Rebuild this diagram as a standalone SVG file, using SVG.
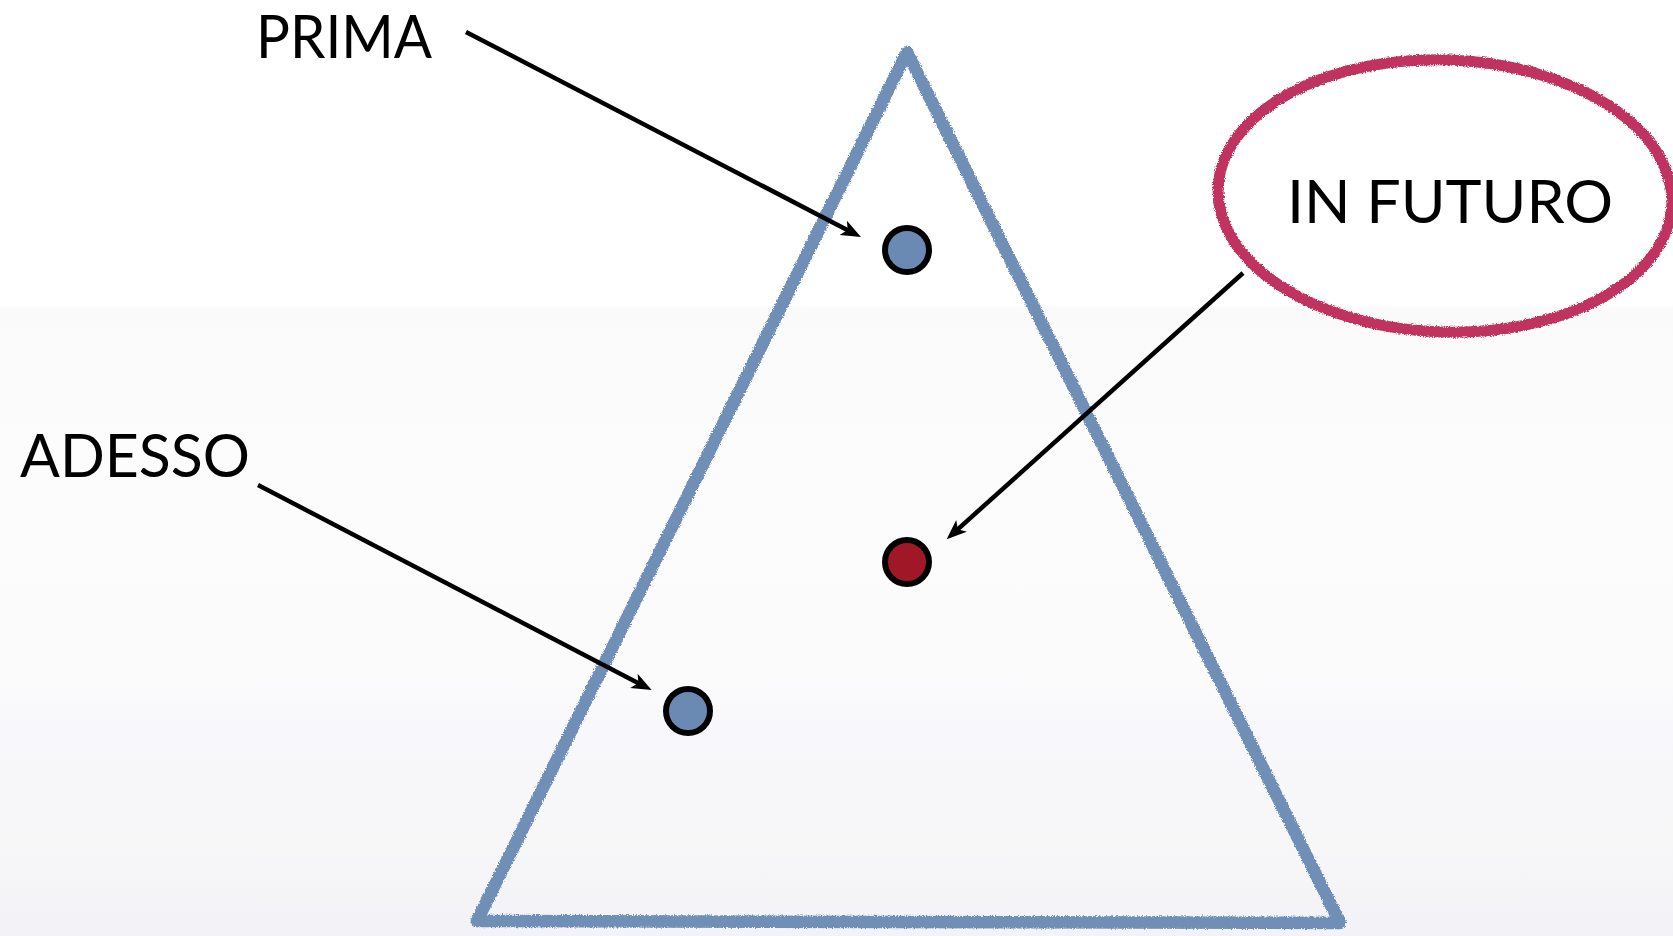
<svg xmlns="http://www.w3.org/2000/svg" width="1673" height="936" viewBox="0 0 1673 936">
<defs>
<linearGradient id="bg" x1="0" y1="0" x2="0" y2="1">
<stop offset="0" stop-color="#ffffff"/>
<stop offset="0.325" stop-color="#ffffff"/>
<stop offset="0.33" stop-color="#fafafa"/>
<stop offset="0.5" stop-color="#fcfcfc"/>
<stop offset="0.72" stop-color="#fbfbfc"/>
<stop offset="0.78" stop-color="#f8f7fb"/>
<stop offset="0.9" stop-color="#f7f7f8"/>
<stop offset="1" stop-color="#f2f2f7"/>
</linearGradient>
<filter id="rough" x="-5%" y="-5%" width="110%" height="110%">
<feTurbulence type="fractalNoise" baseFrequency="0.9" numOctaves="2" seed="3"/>
<feDisplacementMap in="SourceGraphic" scale="4" xChannelSelector="R" yChannelSelector="G"/>
</filter>
<marker id="ah" viewBox="0 -9 22 18" refX="10" refY="0" markerWidth="22" markerHeight="18" markerUnits="userSpaceOnUse" orient="auto">
<path d="M20,0 L0,-8 L5,0 L0,8 Z" fill="#000"/>
</marker>
<style>
.lbl{font-family:Lato,"Open Sans","Liberation Sans",sans-serif;font-size:60px;fill:#000}
.dot{stroke:#000;stroke-width:6}
.blue{fill:#6a89b3}
.red{fill:#a01828}
.conn{stroke:#000;stroke-width:4.5;fill:none;marker-end:url(#ah)}
</style>
</defs>
<rect x="0" y="0" width="1673" height="936" fill="url(#bg)"/>
<g id="triangle" filter="url(#rough)">
<polygon points="907,52 477,921 1340,923" fill="none" stroke="#6f8fb6" stroke-width="12.5" stroke-linejoin="round"/>
</g>
<g id="future-ellipse" filter="url(#rough)">
<ellipse cx="1445" cy="196" rx="227" ry="136" transform="rotate(2 1445 196)" fill="none" stroke="#c0325f" stroke-width="11"/>
</g>
<g id="label-prima"><text class="lbl" x="256" y="58" textLength="176" lengthAdjust="spacingAndGlyphs">PRIMA</text></g>
<g id="label-adesso"><text class="lbl" x="20" y="477" textLength="230" lengthAdjust="spacingAndGlyphs">ADESSO</text></g>
<g id="label-futuro"><text class="lbl" x="1287" y="223" textLength="326" lengthAdjust="spacingAndGlyphs">IN FUTURO</text></g>
<g id="dot-prima"><circle class="dot blue" cx="907" cy="250" r="22"/></g>
<g id="dot-futuro"><circle class="dot red" cx="907" cy="562" r="22"/></g>
<g id="dot-adesso"><circle class="dot blue" cx="688" cy="711" r="22"/></g>
<g id="connectors">
<line class="conn" x1="466" y1="32" x2="852.1" y2="232.4"/>
<line class="conn" x1="258" y1="485" x2="642.8" y2="685.4"/>
<line class="conn" x1="1243" y1="273" x2="954.1" y2="532.6"/>
</g>
</svg>
